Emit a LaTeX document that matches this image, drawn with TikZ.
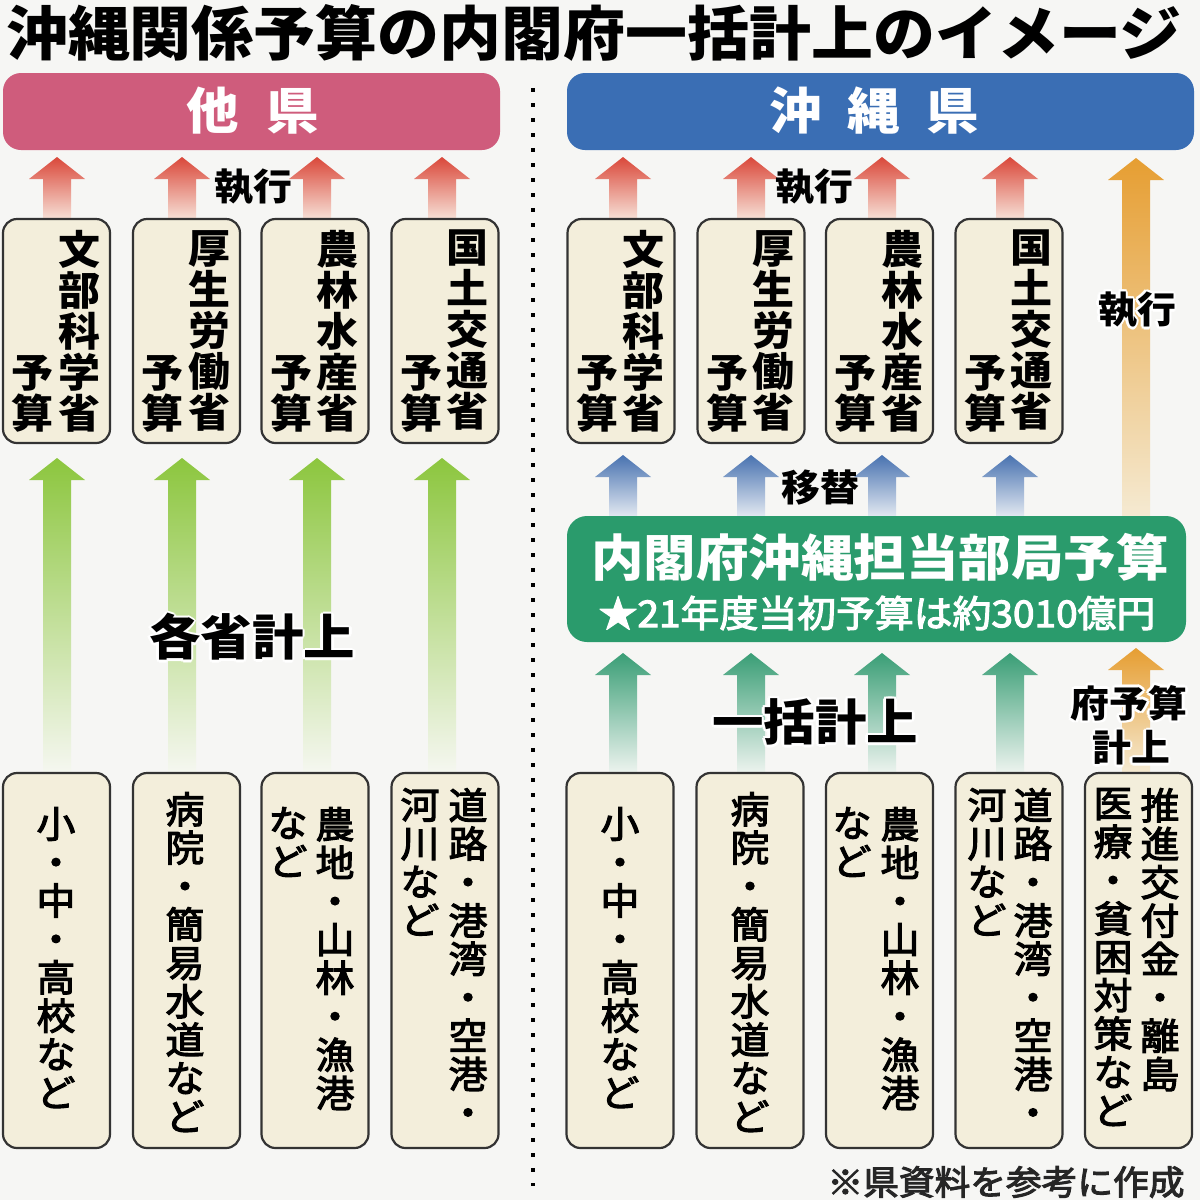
\documentclass[tikz,border=0pt]{standalone}
\usepackage{fontspec}
\newfontfamily\jp[FakeStretch=1.05]{Noto Sans CJK JP}
\newfontfamily\jpm[FakeStretch=1.05,FakeBold=3]{Noto Sans CJK JP}
\usetikzlibrary{calc}
\definecolor{bg}{RGB}{246,246,244}
\definecolor{cream}{RGB}{243,238,219}
\definecolor{pinkh}{RGB}{207,92,124}
\definecolor{blueh}{RGB}{58,110,180}
\definecolor{greenbox}{RGB}{42,155,108}
\definecolor{redA}{RGB}{218,72,58}
\definecolor{redB}{RGB}{246,222,212}
\definecolor{grnA}{RGB}{140,198,62}
\definecolor{grnB}{RGB}{245,247,240}
\definecolor{tealA}{RGB}{58,158,118}
\definecolor{tealB}{RGB}{236,243,238}
\definecolor{bluA}{RGB}{72,114,176}
\definecolor{bluB}{RGB}{228,234,242}
\definecolor{orgA}{RGB}{230,158,50}
\definecolor{orgB}{RGB}{245,234,210}
\newcommand\fatarrow[4]{%
  \shade[top color=#3,bottom color=#4] let \p1=(#1), \p2=(#2) in
    (\x1-14pt,\y1) -- (\x1+14pt,\y1) -- (\x1+14pt,\y2-22pt) -- (\x1+28pt,\y2-22pt)
    -- (\x2,\y2) -- (\x1-28pt,\y2-22pt) -- (\x1-14pt,\y2-22pt) -- cycle;}
\newcommand\halotext[4]{%
  \foreach \ang in {0,45,...,315}{\node[inner sep=0pt,text=white,font=#3] at ($(#2)+(\ang:2.6)$) {#4};}
  \node[inner sep=0pt,font=#3] (#1) at (#2) {#4};}
\tikzset{
  box/.style={draw=black!80,line width=2.2pt,fill=cream,rounded corners=14pt,inner sep=0pt},
  hdr/.style={rounded corners=18pt,inner sep=0pt},
  hdrtext/.style={inner sep=0pt,text=white,font=\jp\bfseries\fontsize{50}{50}\selectfont},
  vtb/.style={align=center,inner sep=0pt,font=\jp\bfseries\fontsize{40}{41}\selectfont},
  vtr/.style={align=center,inner sep=0pt,font=\jpm\fontsize{37}{38.4}\selectfont},
  lbl/.style={inner sep=0pt,font=\jp\bfseries\fontsize{37}{37}\selectfont},
}
\begin{document}
\begin{tikzpicture}[x=1pt,y=-1pt]
\useasboundingbox (0,0) rectangle (1200,1200);
\fill[bg] (0,0) rectangle (1200,1200);

% title
\node[inner sep=0pt,font=\jp\bfseries\fontsize{59}{59}\selectfont] (title) at (594,33) {沖縄関係予算の内閣府一括計上のイメージ};

% headers
\node[hdr,fill=pinkh,minimum width=497pt,minimum height=77pt] (hL) at (251.5,111.5) {};
\node[hdrtext] (hLt) at (253,111) {他\hspace{28pt}県};
\node[hdr,fill=blueh,minimum width=627pt,minimum height=77pt] (hR) at (880.5,111.5) {};
\node[hdrtext] (hRt) at (874,111) {沖\hspace{26pt}縄\hspace{26pt}県};

% divider
\coordinate (d1) at (533,88);
\coordinate (d2) at (533,1186);
\draw[line width=4pt,dash pattern=on 4pt off 11pt] (d1) -- (d2);

% arrow coordinates
\foreach \k/\xx in {1/57,2/182,3/317,4/442}{
  \coordinate (ra\k) at (\xx,218); \coordinate (rb\k) at (\xx,157);
  \coordinate (ga\k) at (\xx,772); \coordinate (gb\k) at (\xx,458);}
\foreach \k/\xx in {1/623,2/751,3/882,4/1010}{
  \coordinate (Ra\k) at (\xx,218); \coordinate (Rb\k) at (\xx,157);
  \coordinate (Ba\k) at (\xx,517); \coordinate (Bb\k) at (\xx,455);
  \coordinate (Ta\k) at (\xx,772); \coordinate (Tb\k) at (\xx,653);}
\coordinate (Oa) at (1136,517); \coordinate (Ob) at (1136,158);
\coordinate (Oc) at (1136,772); \coordinate (Od) at (1136,648);

% arrows
\foreach \k in {1,2,3,4}{
  \fatarrow{ra\k}{rb\k}{redA}{redB}
  \fatarrow{ga\k}{gb\k}{grnA}{grnB}
  \fatarrow{Ra\k}{Rb\k}{redA}{redB}
  \fatarrow{Ba\k}{Bb\k}{bluA}{bluB}
  \fatarrow{Ta\k}{Tb\k}{tealA}{tealB}}
\fatarrow{Oa}{Ob}{orgA}{orgB}
\fatarrow{Oc}{Od}{orgA}{orgB}

% green box
\node[fill=greenbox,rounded corners=20pt,minimum width=619pt,minimum height=126pt,inner sep=0pt] (gbox) at (876.5,579) {};
\node[inner sep=0pt,text=white,font=\jp\bfseries\fontsize{50}{50}\selectfont] (gbt1) at (880,557) {内閣府沖縄担当部局予算};
\node[inner sep=0pt,text=white,font=\jpm\fontsize{37}{37}\selectfont] (gbt2) at (877,613) {★21年度当初予算は約3010億円};

% top boxes
\foreach \k/\xx in {1/56.5,2/186.5,3/315,4/445}{\node[box,minimum width=107pt,minimum height=224pt] (Lt\k) at (\xx,331) {};}
\foreach \k/\xx in {1/621,2/751,3/879.5,4/1009}{\node[box,minimum width=107pt,minimum height=224pt] (Rt\k) at (\xx,331) {};}
% bottom boxes
\foreach \k/\xx in {1/56.5,2/186.5,3/315,4/445}{\node[box,minimum width=107pt,minimum height=375pt] (Lb\k) at (\xx,960.5) {};}
\foreach \k/\xx in {1/620,2/750,3/879.5,4/1009,5/1138.5}{\node[box,minimum width=107pt,minimum height=375pt] (Rb\k) at (\xx,960.5) {};}

% top box texts
\foreach \s/\xx/\tt in {L1/56.5/文\\部\\科\\学\\省, L2/186.5/厚\\生\\労\\働\\省, L3/315/農\\林\\水\\産\\省, L4/445/国\\土\\交\\通\\省,
  R1/621/文\\部\\科\\学\\省, R2/751/厚\\生\\労\\働\\省, R3/879.5/農\\林\\水\\産\\省, R4/1009/国\\土\\交\\通\\省}{
  \node[vtb,anchor=north] (\s a) at (\xx+22.5,230) {\tt};
  \node[vtb,anchor=south] (\s b) at (\xx-24,432) {予\\算};}

% bottom box texts
\node[vtr,anchor=north] (Lb1t) at (56,807) {小\\・\\中\\・\\高\\校\\な\\ど};
\node[vtr,anchor=north] (Lb2t) at (185,792) {病\\院\\・\\簡\\易\\水\\道\\な\\ど};
\node[vtr,anchor=north] (Lb3a) at (335,807) {農\\地\\・\\山\\林\\・\\漁\\港};
\node[vtr,anchor=north] (Lb3b) at (288,807) {な\\ど};
\node[vtr,anchor=north] (Lb4a) at (468,788) {道\\路\\・\\港\\湾\\・\\空\\港\\・};
\node[vtr,anchor=north] (Lb4b) at (420,788) {河\\川\\な\\ど};
\node[vtr,anchor=north] (Rb1t) at (620,807) {小\\・\\中\\・\\高\\校\\な\\ど};
\node[vtr,anchor=north] (Rb2t) at (750,792) {病\\院\\・\\簡\\易\\水\\道\\な\\ど};
\node[vtr,anchor=north] (Rb3a) at (900,807) {農\\地\\・\\山\\林\\・\\漁\\港};
\node[vtr,anchor=north] (Rb3b) at (852,807) {な\\ど};
\node[vtr,anchor=north] (Rb4a) at (1033,788) {道\\路\\・\\港\\湾\\・\\空\\港\\・};
\node[vtr,anchor=north] (Rb4b) at (987,788) {河\\川\\な\\ど};
\node[vtr,anchor=north] (Rb5a) at (1160,788) {推\\進\\交\\付\\金\\・\\離\\島};
\node[vtr,anchor=north] (Rb5b) at (1113,788) {医\\療\\・\\貧\\困\\対\\策\\な\\ど};

% labels
\node[lbl] (execL) at (253,187) {執行};
\node[lbl] (execR) at (814,187) {執行};
\node[lbl] (iko) at (820,488) {移替};
\coordinate (pO) at (1137,310);
\halotext{execO}{pO}{\jp\bfseries\fontsize{37}{37}\selectfont}{執行}
\coordinate (pK) at (252,637);
\halotext{kakusho}{pK}{\jp\bfseries\fontsize{49}{49}\selectfont}{各省計上}
\coordinate (pI) at (815,722);
\halotext{ikkatsu}{pI}{\jp\bfseries\fontsize{49}{49}\selectfont}{一括計上}
\coordinate (pF1) at (1129,703);
\halotext{fuyosan}{pF1}{\jp\bfseries\fontsize{37}{37}\selectfont}{府予算}
\coordinate (pF2) at (1131,748);
\halotext{keijo}{pF2}{\jp\bfseries\fontsize{37}{37}\selectfont}{計上}

% note
\node[inner sep=0pt,text=black!85,font=\jpm\fontsize{34}{34}\selectfont] (note) at (1006,1182) {※県資料を参考に作成};
\end{tikzpicture}
\end{document}
